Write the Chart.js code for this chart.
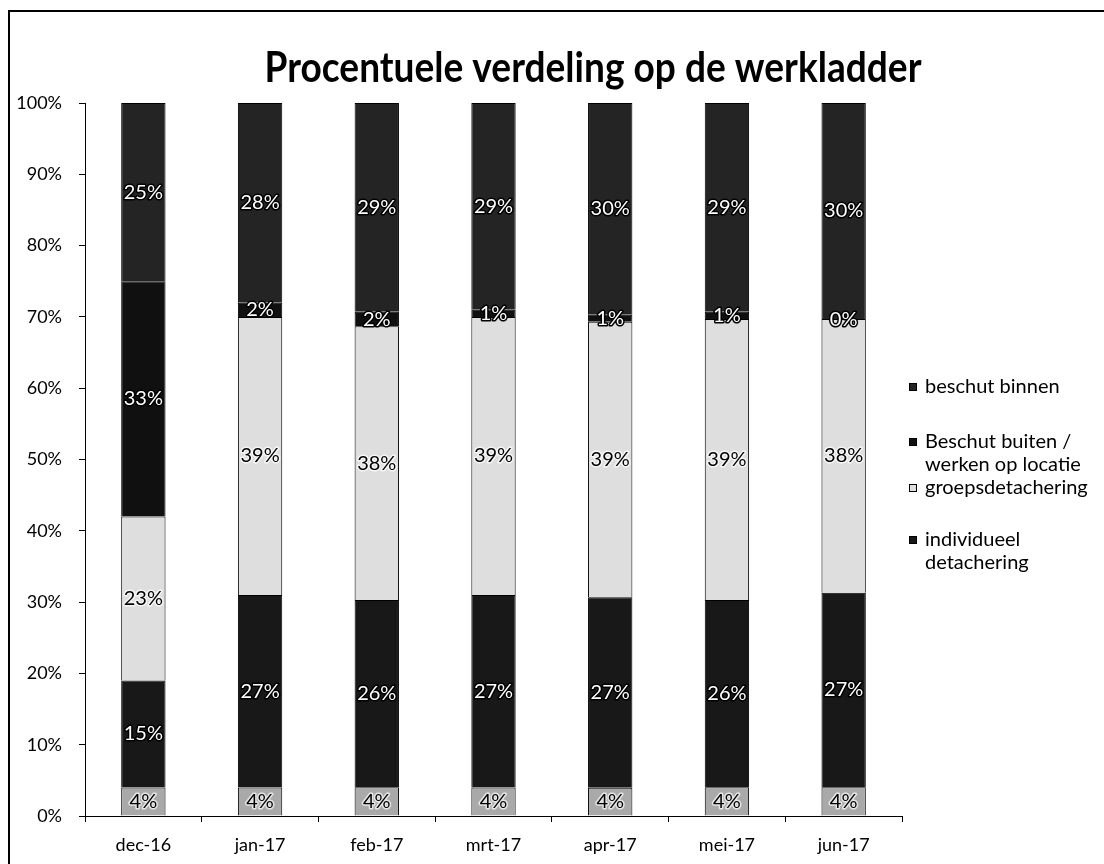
<!DOCTYPE html>
<html>
<head>
<meta charset="utf-8">
<script src="https://cdn.jsdelivr.net/npm/chart.js@4.4.1/dist/chart.umd.min.js"></script>
<style>
  html, body { margin: 0; padding: 0; background: #ffffff; }
  #wrap { width: 1104px; height: 864px; position: relative; }
</style>
</head>
<body>
<div id="wrap"><canvas id="c" width="1104" height="864"></canvas></div>
<script>
// ---- data ----
const categories = ['dec-16', 'jan-17', 'feb-17', 'mrt-17', 'apr-17', 'mei-17', 'jun-17'];
const seriesNames = ['overig', 'individueel detachering', 'groepsdetachering', 'Beschut buiten / werken op locatie', 'beschut binnen'];
const overig        = [4, 4, 4, 4, 4, 4, 4];
const individueel   = [15, 27, 26, 27, 27, 26, 27];
const groeps        = [23, 39, 38, 39, 39, 39, 38];
const beschutBuiten = [33, 2, 2, 1, 1, 1, 0];
const beschutBinnen = [25, 28, 29, 29, 30, 29, 30];
const yTickValues = [0, 10, 20, 30, 40, 50, 60, 70, 80, 90, 100];
const titleText = 'Procentuele verdeling op de werkladder';

// legend (top to bottom), lines per entry
const legendEntries = [
  { lines: ['beschut binnen'], ds: 4 },
  { lines: ['Beschut buiten /', 'werken op locatie'], ds: 3 },
  { lines: ['groepsdetachering'], ds: 2 },
  { lines: ['individueel', 'detachering'], ds: 1 }
];

const raw = [overig, individueel, groeps, beschutBuiten, beschutBinnen];
const totals = categories.map((_, i) => raw.reduce((s, arr) => s + arr[i], 0));
const pct = raw.map(arr => arr.map((v, i) => v / totals[i] * 100));

const fills   = ['#a9a9a9', '#181818', '#dedede', '#101010', '#242424'];
const labelDark = [false, true, false, true, true]; // white outlined text on dark segments

const FONT = 'Lato, "Open Sans", "DejaVu Sans", sans-serif';

const datasets = raw.map((arr, k) => ({
  label: seriesNames[k],
  data: pct[k],
  rawValues: arr,
  backgroundColor: fills[k],
  borderColor: '#000000',
  borderWidth: 1,
  barPercentage: 0.38,
  categoryPercentage: 1.0
}));

const decorPlugin = {
  id: 'decor',
  beforeDraw(chart) {
    const ctx = chart.ctx;
    ctx.save();
    ctx.fillStyle = '#ffffff';
    ctx.fillRect(0, 0, chart.width, chart.height);
    ctx.strokeStyle = '#000000';
    ctx.lineWidth = 2;
    ctx.beginPath();
    ctx.moveTo(9, chart.height + 2);
    ctx.lineTo(9, 11);
    ctx.lineTo(chart.width + 2, 11);
    ctx.stroke();
    ctx.restore();
  },
  afterDatasetsDraw(chart) {
    const ctx = chart.ctx;
    ctx.save();
    ctx.font = '20px ' + FONT;
    ctx.textAlign = 'center';
    ctx.textBaseline = 'middle';
    chart.data.datasets.forEach((ds, k) => {
      const meta = chart.getDatasetMeta(k);
      meta.data.forEach((bar, i) => {
        const v = ds.rawValues[i];
        const y = (bar.y + bar.base) / 2;
        const txt = Math.round(v) + '%';
        ctx.lineJoin = 'round';
        ctx.lineWidth = 3;
        if (labelDark[k]) {
          ctx.strokeStyle = '#000000';
          ctx.strokeText(txt, bar.x, y);
          ctx.fillStyle = '#ffffff';
          ctx.fillText(txt, bar.x, y);
        } else {
          ctx.strokeStyle = 'rgba(255,255,255,0.7)';
          ctx.strokeText(txt, bar.x, y);
          ctx.fillStyle = '#000000';
          ctx.fillText(txt, bar.x, y);
        }
      });
    });
    ctx.restore();
  },
  afterDraw(chart) {
    const ctx = chart.ctx;
    ctx.save();
    // title (narrowed horizontally to match the reference's condensed face)
    ctx.font = 'bold 42px ' + FONT;
    ctx.fillStyle = '#000000';
    ctx.textAlign = 'center';
    ctx.textBaseline = 'alphabetic';
    const w = ctx.measureText(titleText).width;
    const sx = 657 / w;
    ctx.translate(593, 82);
    ctx.scale(sx, 1);
    ctx.fillText(titleText, 0, 0);
    ctx.setTransform(1, 0, 0, 1, 0, 0);
    // legend
    ctx.font = '20px ' + FONT;
    ctx.textAlign = 'left';
    ctx.textBaseline = 'middle';
    const starts = [387, 442, 488, 540];
    const lineH = 23;
    legendEntries.forEach((e, j) => {
      const y0 = starts[j];
      ctx.fillStyle = fills[e.ds];
      ctx.fillRect(909, y0 - 4, 8, 8);
      ctx.strokeStyle = '#000000';
      ctx.lineWidth = 1;
      ctx.strokeRect(909.5, y0 - 3.5, 7, 7);
      ctx.fillStyle = '#000000';
      e.lines.forEach((ln, m) => ctx.fillText(ln, 925, y0 + m * lineH));
    });
    ctx.restore();
  }
};

new Chart(document.getElementById('c'), {
  type: 'bar',
  data: { labels: categories, datasets: datasets },
  options: {
    responsive: false,
    animation: false,
    devicePixelRatio: 1,
    layout: { padding: { left: 0, right: 202, top: 103, bottom: 0 } },
    plugins: {
      legend: { display: false },
      title: { display: false },
      tooltip: { enabled: false }
    },
    scales: {
      x: {
        stacked: true,
        grid: { drawOnChartArea: false, drawTicks: true, tickLength: 6, color: '#000000', offset: true },
        border: { color: '#000000', width: 1 },
        ticks: { color: '#000000', font: { family: FONT, size: 18 }, padding: 12, maxRotation: 0 },
        afterFit(scale) { scale.height = 48; }
      },
      y: {
        stacked: true,
        min: 0,
        max: 100,
        afterBuildTicks(scale) { scale.ticks = yTickValues.map(v => ({ value: v })); },
        grid: { drawOnChartArea: false, drawTicks: true, tickLength: 6, color: '#000000' },
        border: { color: '#000000', width: 1 },
        ticks: { color: '#000000', font: { family: FONT, size: 18 }, padding: 17, callback: v => v + '%' },
        afterFit(scale) { scale.width = 85; }
      }
    }
  },
  plugins: [decorPlugin]
});
</script>
</body>
</html>
